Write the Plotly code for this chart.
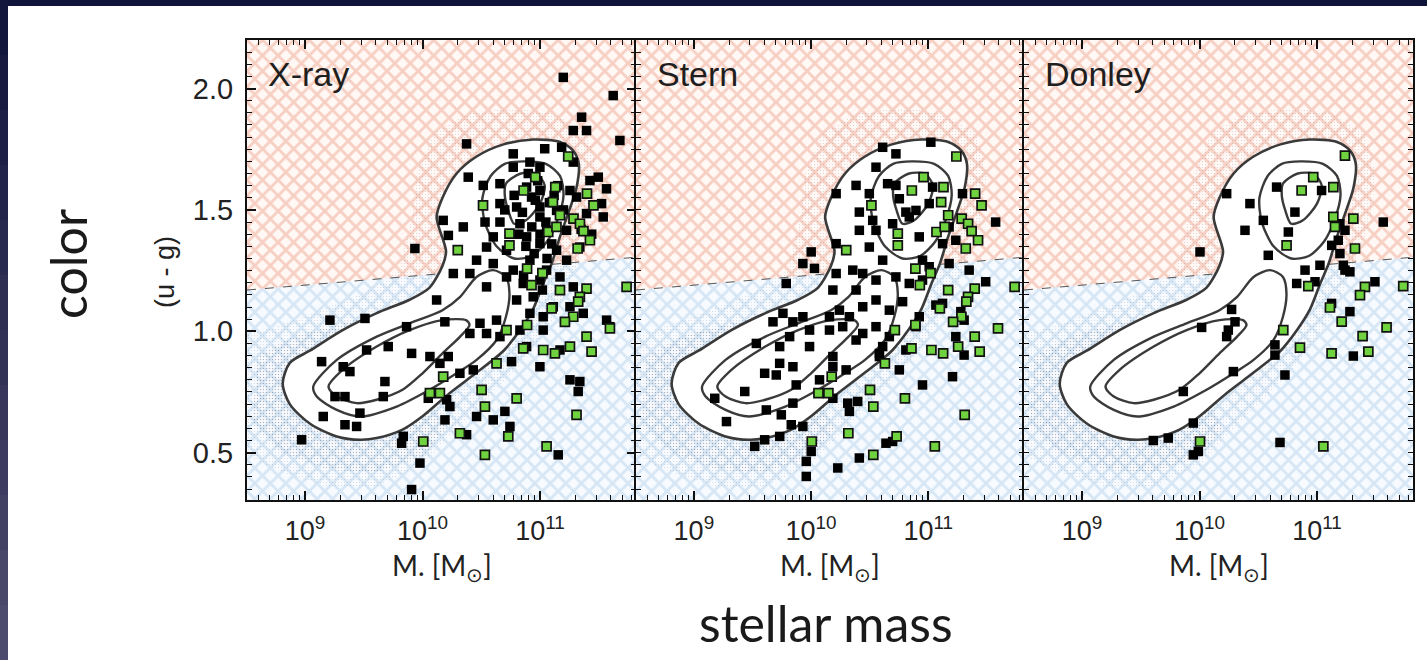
import numpy as np
import plotly.graph_objects as go

# ---------------- data (log10 stellar mass, u-g colour) ----------------
panel_names = ["X-ray", "Stern", "Donley"]

# red-sequence / blue-cloud dividing line
divide_logm = [8.506, 11.817]
divide_color = [1.17, 1.305]

# galaxy-population density contours (same for all panels)
outer_logm = [10.20, 10.12, 10.17, 10.29, 10.46, 10.69, 10.94, 11.17, 11.28, 11.33, 11.31, 11.25,
              11.17, 11.10, 11.03, 10.94, 10.83, 10.69, 10.46, 10.23, 10.00, 9.83, 9.61, 9.47,
              9.27, 9.04, 8.87, 8.81, 8.87, 9.04, 9.32, 9.61, 9.89, 10.06, 10.17, 10.20]
outer_color = [1.33, 1.47, 1.55, 1.65, 1.72, 1.77, 1.79, 1.78, 1.745, 1.69, 1.59, 1.50,
               1.39, 1.28, 1.20, 1.09, 1.005, 0.92, 0.83, 0.745, 0.65, 0.595, 0.56, 0.553,
               0.567, 0.62, 0.70, 0.785, 0.87, 0.92, 1.005, 1.075, 1.13, 1.18, 1.27, 1.33]

mid_lo_logm = [9.07, 9.27, 9.61, 9.89, 10.17, 10.32, 10.46, 10.60, 10.71, 10.74, 10.71, 10.63,
               10.46, 10.29, 10.06, 9.78, 9.47, 9.27, 9.10, 9.07]
mid_lo_color = [0.772, 0.882, 0.978, 1.033, 1.087, 1.142, 1.224, 1.252, 1.224, 1.156, 1.06, 0.964,
                0.882, 0.827, 0.759, 0.69, 0.649, 0.676, 0.731, 0.772]

in_lo_logm = [9.20, 9.32, 9.61, 9.89, 10.17, 10.37, 10.40, 10.32, 10.17, 10.00, 9.83, 9.61,
              9.44, 9.27, 9.20]
in_lo_color = [0.772, 0.841, 0.937, 1.005, 1.046, 1.046, 1.026, 0.978, 0.909, 0.827, 0.759, 0.718,
               0.704, 0.731, 0.772]

mid_up_logm = [10.86, 11.05, 11.17, 11.20, 11.15, 11.06, 10.93, 10.78, 10.63, 10.53, 10.51,
               10.58, 10.70, 10.86]
mid_up_color = [1.70, 1.69, 1.64, 1.56, 1.46, 1.37, 1.31, 1.30, 1.35, 1.45, 1.55,
                1.64, 1.69, 1.70]

in_up_logm = [10.71, 10.83, 10.97, 11.04, 11.00, 10.88, 10.78, 10.73, 10.70, 10.71]
in_up_color = [1.608, 1.649, 1.649, 1.601, 1.526, 1.457, 1.443, 1.498, 1.56, 1.608]

# extent of the faint field-galaxy cloud (outer, sparse) and its dense core
halo_logm = [8.45, 8.45, 8.75, 9.1, 9.5, 9.8, 9.9, 9.95, 10.1, 10.4, 10.8, 11.1, 11.4, 11.5,
             11.45, 11.3, 11.15, 10.9, 10.6, 10.3, 10.0, 9.6, 9.2, 8.8]
halo_color = [0.50, 0.98, 1.02, 1.08, 1.16, 1.25, 1.45, 1.65, 1.82, 1.90, 1.92, 1.90, 1.82, 1.65,
              1.45, 1.25, 1.08, 0.90, 0.75, 0.60, 0.45, 0.36, 0.36, 0.42]
core_logm = [8.55, 8.6, 8.9, 9.3, 9.7, 10.0, 10.2, 10.0, 9.6, 9.2, 8.8]
core_color = [0.62, 0.90, 0.98, 1.03, 1.08, 0.80, 0.60, 0.48, 0.42, 0.43, 0.50]

# AGN host galaxies
xray_logm = [11.198, 11.623, 11.354, 11.283, 11.396, 11.68, 10.375, 11.184, 11.04, 10.772, 10.914,
             11.283, 10.999, 10.772, 10.389, 11.496, 11.425, 10.517, 10.659, 11.566, 10.886, 10.999,
             11.255, 11.311, 10.928, 10.659, 11.524, 10.801, 10.999, 11.141, 11.396, 10.176, 10.532,
             10.659, 10.829, 10.999, 11.538, 10.347, 11.056, 11.226, 10.22, 10.602, 10.886, 10.999,
             9.935, 10.545, 10.715, 11.141, 11.339, 10.46, 10.602, 10.914, 11.226, 10.262, 10.403,
             10.772, 11.056, 10.715, 10.999, 11.17, 10.545, 10.857, 11.283, 10.801, 10.942, 11.113,
             11.255, 10.12, 10.914, 11.027, 11.368, 11.567, 11.595, 10.489, 10.63, 10.403, 10.545,
             10.659, 10.829, 11.027, 9.212, 9.51, 9.864, 10.19, 10.886, 11.17, 9.708, 9.907, 9.524,
             10.063, 10.219, 10.148, 9.141, 9.325, 9.382, 10.318, 10.432, 10.758, 10.999, 9.68,
             11.255, 11.339, 11.325, 9.255, 9.34, 9.666, 10.205, 10.233, 10.049, 9.467, 9.155,
             10.191, 10.46, 10.602, 10.701, 10.744, 9.34, 9.439, 10.375, 9.836, 9.822, 8.971,
             11.155, 9.978, 9.907,
             10.96, 11.08, 10.85, 11.12, 10.93, 11.05, 10.88, 11.00, 11.10, 10.95, 10.82, 11.06,
             10.98, 10.90, 11.15, 10.70, 10.78, 11.20, 11.35, 11.44, 10.86, 11.02]
xray_color = [2.046, 1.971, 1.882, 1.827, 1.827, 1.786, 1.772, 1.758, 1.752, 1.731, 1.697,
              1.697, 1.676, 1.676, 1.635, 1.635, 1.621, 1.601, 1.608, 1.587, 1.594, 1.580,
              1.580, 1.553, 1.553, 1.526, 1.526, 1.512, 1.512, 1.498, 1.485, 1.457, 1.450,
              1.450, 1.443, 1.471, 1.471, 1.430, 1.416, 1.416, 1.395, 1.389, 1.389, 1.361,
              1.341, 1.347, 1.334, 1.334, 1.347, 1.293, 1.279, 1.293, 1.293, 1.238, 1.238,
              1.252, 1.252, 1.224, 1.211, 1.224, 1.183, 1.197, 1.183, 1.129, 1.142, 1.101,
              1.101, 1.129, 1.074, 1.060, 1.074, 1.046, 1.019, 1.033, 1.046, 0.991, 0.991,
              0.978, 1.005, 1.005, 1.046, 1.053, 1.019, 1.039, 0.937, 0.923, 0.937, 0.909, 0.923,
              0.896, 0.896, 0.868, 0.875, 0.854, 0.834, 0.827, 0.841, 0.875, 0.854, 0.793,
              0.800, 0.793, 0.752, 0.731, 0.731, 0.731, 0.718, 0.690, 0.724, 0.663, 0.649,
              0.635, 0.649, 0.635, 0.670, 0.608, 0.615, 0.608, 0.574, 0.567, 0.539, 0.553,
              0.491, 0.457, 0.348,
              1.540, 1.530, 1.490, 1.560, 1.430, 1.450, 1.350, 1.400, 1.360, 1.320, 1.400, 1.300,
              1.620, 1.650, 1.600, 1.500, 1.560, 1.500, 1.420, 1.400, 1.230, 1.170]

stern_logm = [11.022, 10.611, 10.724, 10.554, 10.653, 10.724, 11.037, 10.384, 10.497, 10.214,
              10.753, 11.292, 10.809, 10.895, 10.838, 10.412, 10.526, 11.008, 11.575, 10.412,
              10.554, 10.696, 10.923, 11.178, 11.235, 10.497, 10.001, 10.214, 11.122, 10.611,
              10.951, 11.178, 9.93, 10.356, 11.349, 10.029, 10.214, 10.441, 10.554, 10.724,
              11.008, 10.951, 10.838, 11.49, 9.788, 10.186, 10.384, 10.554, 10.781, 10.441,
              10.242, 11.065, 11.122, 11.278, 9.76, 9.93, 10.157, 10.327, 10.668, 10.923, 9.675,
              9.845, 9.987, 10.157, 10.27, 10.441, 10.554, 10.668, 10.895, 11.306, 11.235, 9.817,
              9.533, 9.732, 9.987, 10.384, 10.611, 10.809, 10.186, 10.583, 11.306, 9.732, 9.845,
              10.186, 10.299, 10.583, 10.753, 9.604, 9.703, 11.207, 10.951, 9.873, 9.434, 10.072,
              9.178, 9.845, 10.186, 10.313, 10.398, 9.618, 9.746, 10.327, 9.278, 9.831, 9.93,
              9.732, 9.604, 9.519, 10.639, 10.696, 10.001, 9.959, 10.412, 10.228, 9.959]
stern_color = [1.779, 1.758, 1.731, 1.676, 1.608, 1.601, 1.594, 1.601, 1.567, 1.567,
               1.546, 1.567, 1.491, 1.498, 1.471, 1.491, 1.457, 1.526, 1.450, 1.416,
               1.416, 1.443, 1.389, 1.430, 1.375, 1.347, 1.327, 1.361, 1.361, 1.293,
               1.293, 1.279, 1.279, 1.252, 1.252, 1.259, 1.238, 1.238, 1.211, 1.224,
               1.266, 1.211, 1.197, 1.204, 1.197, 1.170, 1.170, 1.129, 1.122, 1.101,
               1.087, 1.108, 1.115, 1.081, 1.074, 1.060, 1.060, 1.060, 1.087, 1.060, 1.039,
               1.039, 1.005, 1.005, 1.019, 0.991, 1.019, 0.978, 1.019, 1.046, 0.978, 0.978,
               0.950, 0.937, 0.937, 0.964, 0.937, 0.923, 0.896, 0.896, 0.902, 0.868, 0.854,
               0.854, 0.841, 0.909, 0.841, 0.827, 0.820, 0.813, 0.779, 0.779, 0.752, 0.800,
               0.724, 0.704, 0.724, 0.704, 0.711, 0.676, 0.656, 0.670, 0.628, 0.615, 0.608,
               0.567, 0.553, 0.526, 0.539, 0.546, 0.505, 0.464, 0.478, 0.437, 0.402]

donley_logm = [10.231, 10.656, 11.039, 10.429, 10.812, 10.543, 10.387, 10.756, 10.004, 11.195,
               11.238, 11.564, 11.181, 11.125, 11.195, 10.585, 11.025, 10.898, 11.238, 11.224,
               11.28, 10.983, 10.827, 11.493, 11.124, 11.28, 10.273, 10.302, 10.018, 10.245,
               10.231, 10.642, 10.642, 11.309, 10.727, 10.288, 9.862, 9.947, 9.607, 9.734,
               10.685, 9.99, 9.947]
donley_color = [1.567, 1.594, 1.580, 1.526, 1.491, 1.457, 1.416, 1.409, 1.327, 1.443,
                1.416, 1.450, 1.375, 1.354, 1.320, 1.313, 1.272, 1.252, 1.252, 1.272,
                1.245, 1.204, 1.197, 1.204, 1.115, 1.081, 1.090, 1.039, 1.016, 1.005,
                0.978, 0.944, 0.902, 0.898, 0.820, 0.834, 0.752, 0.622, 0.550, 0.560,
                0.542, 0.505, 0.491]

# green-flagged hosts (same objects in the X-ray and Stern panels)
green_logm = [11.24, 10.96, 11.13, 10.86, 11.40, 11.11, 10.515, 11.455, 11.17, 11.285, 11.34,
              11.37, 11.07, 11.14, 10.74, 11.425, 10.74, 10.30, 11.32, 10.89, 11.02, 10.928,
              11.396, 11.737, 11.17, 11.339, 11.325, 11.099, 11.283, 11.212, 10.715, 11.595,
              11.396, 10.857, 11.027, 11.255, 11.127, 11.439, 10.63, 10.176, 10.063, 10.148,
              10.503, 10.801, 10.531, 11.311, 10.318, 10.73, 10.006, 10.531, 11.056, 10.89]
green_color = [1.72, 1.635, 1.594, 1.58, 1.567, 1.532, 1.519, 1.519, 1.478, 1.464, 1.443,
               1.413, 1.409, 1.43, 1.402, 1.375, 1.354, 1.334, 1.341, 1.258, 1.24, 1.19,
               1.176, 1.183, 1.17, 1.142, 1.122, 1.094, 1.06, 1.039, 1.005, 1.012,
               0.978, 0.93, 0.923, 0.937, 0.909, 0.916, 0.868, 0.813, 0.745, 0.745,
               0.759, 0.724, 0.69, 0.656, 0.58, 0.567, 0.546, 0.491, 0.526, 1.026]

donley_green_logm = [11.238, 10.968, 11.139, 10.869, 11.139, 11.309, 11.153, 11.323, 10.741,
                     11.734, 11.408, 10.926, 11.366, 11.11, 11.21, 10.713, 11.592, 11.388,
                     10.855, 11.124, 11.437, 10.004, 11.054]
donley_green_color = [1.724, 1.635, 1.594, 1.58, 1.471, 1.464, 1.43, 1.341, 1.354,
                      1.186, 1.183, 1.186, 1.149, 1.098, 1.04, 1.005, 1.016, 0.98,
                      0.933, 0.909, 0.916, 0.546, 0.526]

black_sets = [(xray_logm, xray_color), (stern_logm, stern_color), (donley_logm, donley_color)]
green_sets = [(green_logm, green_color), (green_logm, green_color),
              (donley_green_logm, donley_green_color)]

# faint vertical seams of the hatched background
seam_logm = [8.76, 9.27, 9.77, 10.28, 10.77, 11.28, 11.77]

x_ticks = [9, 10, 11]
y_ticks = [0.5, 1.0, 1.5, 2.0]
x_range = [8.506, 11.817]
y_range = [0.305, 2.2]

# ---------------- figure ----------------
W, H = 1427, 660
x_domains = [(247 / W, 636 / W), (636 / W, 1024 / W), (1024 / W, 1413 / W)]
y_domain = (1 - 500 / H, 1 - 40 / H)

TICK_FONT = "Liberation Sans, Arial, sans-serif"
SLIDE_FONT = "Lato, Open Sans, sans-serif"
LINE = "#3a3a3a"


def lin(v):
    return 10 ** np.asarray(v, dtype=float)


fig = go.Figure()
shapes = []
annotations = []

for i, name in enumerate(panel_names):
    s = "" if i == 0 else str(i + 1)
    xa, ya = "x" + s, "y" + s

    def add(tr):
        tr.update(xaxis=xa, yaxis=ya, showlegend=False, hoverinfo="skip")
        fig.add_trace(tr)

    # red (upper) and blue (lower) hatched regions
    add(go.Scatter(
        x=lin([x_range[0], x_range[1], x_range[1], x_range[0], x_range[0]]),
        y=[divide_color[0], divide_color[1], y_range[1], y_range[1], divide_color[0]],
        mode="none", fill="toself", fillcolor="rgba(0,0,0,0)",
        fillpattern=dict(shape="x", fgcolor="#f0a58f", bgcolor="#fff8f5", size=11, solidity=0.45)))
    add(go.Scatter(
        x=lin([x_range[0], x_range[1], x_range[1], x_range[0], x_range[0]]),
        y=[divide_color[0], divide_color[1], y_range[0], y_range[0], divide_color[0]],
        mode="none", fill="toself", fillcolor="rgba(0,0,0,0)",
        fillpattern=dict(shape="x", fgcolor="#b6d2ec", bgcolor="#f7fbff", size=11, solidity=0.45)))

    for sx in seam_logm:
        shapes.append(dict(type="line", xref=xa, yref=ya + " domain",
                           x0=10 ** sx, x1=10 ** sx, y0=0, y1=1,
                           line=dict(color="rgba(200,200,205,0.45)", width=2), layer="below"))

    # dividing line
    add(go.Scatter(x=lin(divide_logm), y=divide_color, mode="lines",
                   line=dict(color="#555555", width=1, dash="dash")))

    # stippled field-galaxy cloud
    add(go.Scatter(x=lin(halo_logm), y=halo_color, mode="none", fill="toself",
                   fillcolor="rgba(255,255,255,0.25)",
                   fillpattern=dict(shape=".", fgcolor="rgba(80,80,100,0.45)",
                                    bgcolor="rgba(0,0,0,0)", size=3, solidity=0.12)))
    add(go.Scatter(x=lin(core_logm), y=core_color, mode="none", fill="toself",
                   fillcolor="rgba(0,0,0,0)",
                   fillpattern=dict(shape=".", fgcolor="rgba(60,60,80,0.5)",
                                    bgcolor="rgba(0,0,0,0)", size=3, solidity=0.2)))

    # contours
    add(go.Scatter(x=lin(outer_logm), y=outer_color, mode="lines", fill="toself",
                   fillcolor="white", line=dict(color=LINE, width=2.6, shape="spline",
                                                smoothing=0.8)))
    for cx, cy in [(mid_lo_logm, mid_lo_color), (in_lo_logm, in_lo_color),
                   (mid_up_logm, mid_up_color), (in_up_logm, in_up_color)]:
        add(go.Scatter(x=lin(cx), y=cy, mode="lines",
                       line=dict(color=LINE, width=2.4, shape="spline", smoothing=0.8)))

    # AGN hosts
    bx, by = black_sets[i]
    add(go.Scatter(x=lin(bx), y=by, mode="markers",
                   marker=dict(symbol="square", size=9.5, color="black", line=dict(width=0))))
    gx, gy = green_sets[i]
    add(go.Scatter(x=lin(gx), y=gy, mode="markers",
                   marker=dict(symbol="square", size=9, color="#6fd23f",
                               line=dict(color="#111111", width=1.7))))

    axis_common = dict(showline=True, linewidth=2, linecolor="#111111", mirror="ticks",
                       ticks="inside", ticklen=9, tickwidth=1.5, tickcolor="#111111",
                       showgrid=False, zeroline=False)
    fig.layout["xaxis" + s] = dict(
        axis_common, type="log", domain=x_domains[i], range=x_range, anchor=ya,
        tickmode="array", tickvals=[10 ** t for t in x_ticks],
        ticktext=["10<sup>%d</sup>" % t for t in x_ticks],
        tickfont=dict(family=TICK_FONT, size=27, color="#222222"),
        ticklabelstandoff=6,
        minor=dict(ticks="inside", ticklen=5, tickwidth=1.2, tickcolor="#111111",
                   tickmode="array",
                   tickvals=[k * 10 ** e for e in range(8, 12) for k in range(2, 10)]))
    fig.layout["yaxis" + s] = dict(
        axis_common, domain=y_domain, range=y_range, anchor=xa,
        tickmode="array", tickvals=y_ticks,
        ticktext=["%.1f" % t for t in y_ticks] if i == 0 else ["" for _ in y_ticks],
        showticklabels=(i == 0),
        tickfont=dict(family=TICK_FONT, size=29, color="#222222"),
        ticklabelstandoff=6,
        minor=dict(ticks="inside", ticklen=5, tickwidth=1.2, tickcolor="#111111", dtick=0.05))

    annotations.append(dict(text=name, xref=xa + " domain", yref=ya + " domain",
                            x=0.05, y=0.925, xanchor="left", yanchor="middle", showarrow=False,
                            font=dict(family=TICK_FONT, size=34, color="#1e1e1e")))
    annotations.append(dict(text="M. [M<sub>⊙</sub>]", xref=xa + " domain", yref="paper",
                            x=0.5, y=1 - 567 / H, xanchor="center", yanchor="middle",
                            showarrow=False,
                            font=dict(family=SLIDE_FONT, size=28, color="#222222")))

annotations += [
    dict(text="stellar mass", xref="paper", yref="paper", x=826 / W, y=1 - 623 / H,
         xanchor="center", yanchor="middle", showarrow=False,
         font=dict(family=SLIDE_FONT, size=50, color="#1a1a1a")),
    dict(text="color", xref="paper", yref="paper", x=68 / W, y=1 - 264 / H,
         xanchor="center", yanchor="middle", showarrow=False, textangle=-90,
         font=dict(family=SLIDE_FONT, size=50, color="#1a1a1a")),
    dict(text="(u - g)", xref="paper", yref="paper", x=165 / W, y=1 - 272 / H,
         xanchor="center", yanchor="middle", showarrow=False, textangle=-90,
         font=dict(family=TICK_FONT, size=27, color="#222222")),
]

# slide frame: dark band along the top and a shaded band down the left side
shapes.append(dict(type="rect", xref="paper", yref="paper", x0=0, x1=1, y0=1 - 6 / H, y1=1,
                   fillcolor="#10133a", line=dict(width=0), layer="above"))
top_rgb, bot_rgb = np.array([16, 19, 58]), np.array([80, 78, 112])
n_seg = 12
for k in range(n_seg):
    c = (top_rgb + (bot_rgb - top_rgb) * (k + 0.5) / n_seg).astype(int)
    shapes.append(dict(type="rect", xref="paper", yref="paper", x0=0, x1=8 / W,
                       y0=1 - (k + 1) / n_seg, y1=1 - k / n_seg,
                       fillcolor="rgb(%d,%d,%d)" % tuple(c), line=dict(width=0), layer="above"))

fig.update_layout(width=W, height=H, margin=dict(l=0, r=0, t=0, b=0),
                  paper_bgcolor="white", plot_bgcolor="white",
                  shapes=shapes, annotations=annotations)

fig.write_html("out.html")
